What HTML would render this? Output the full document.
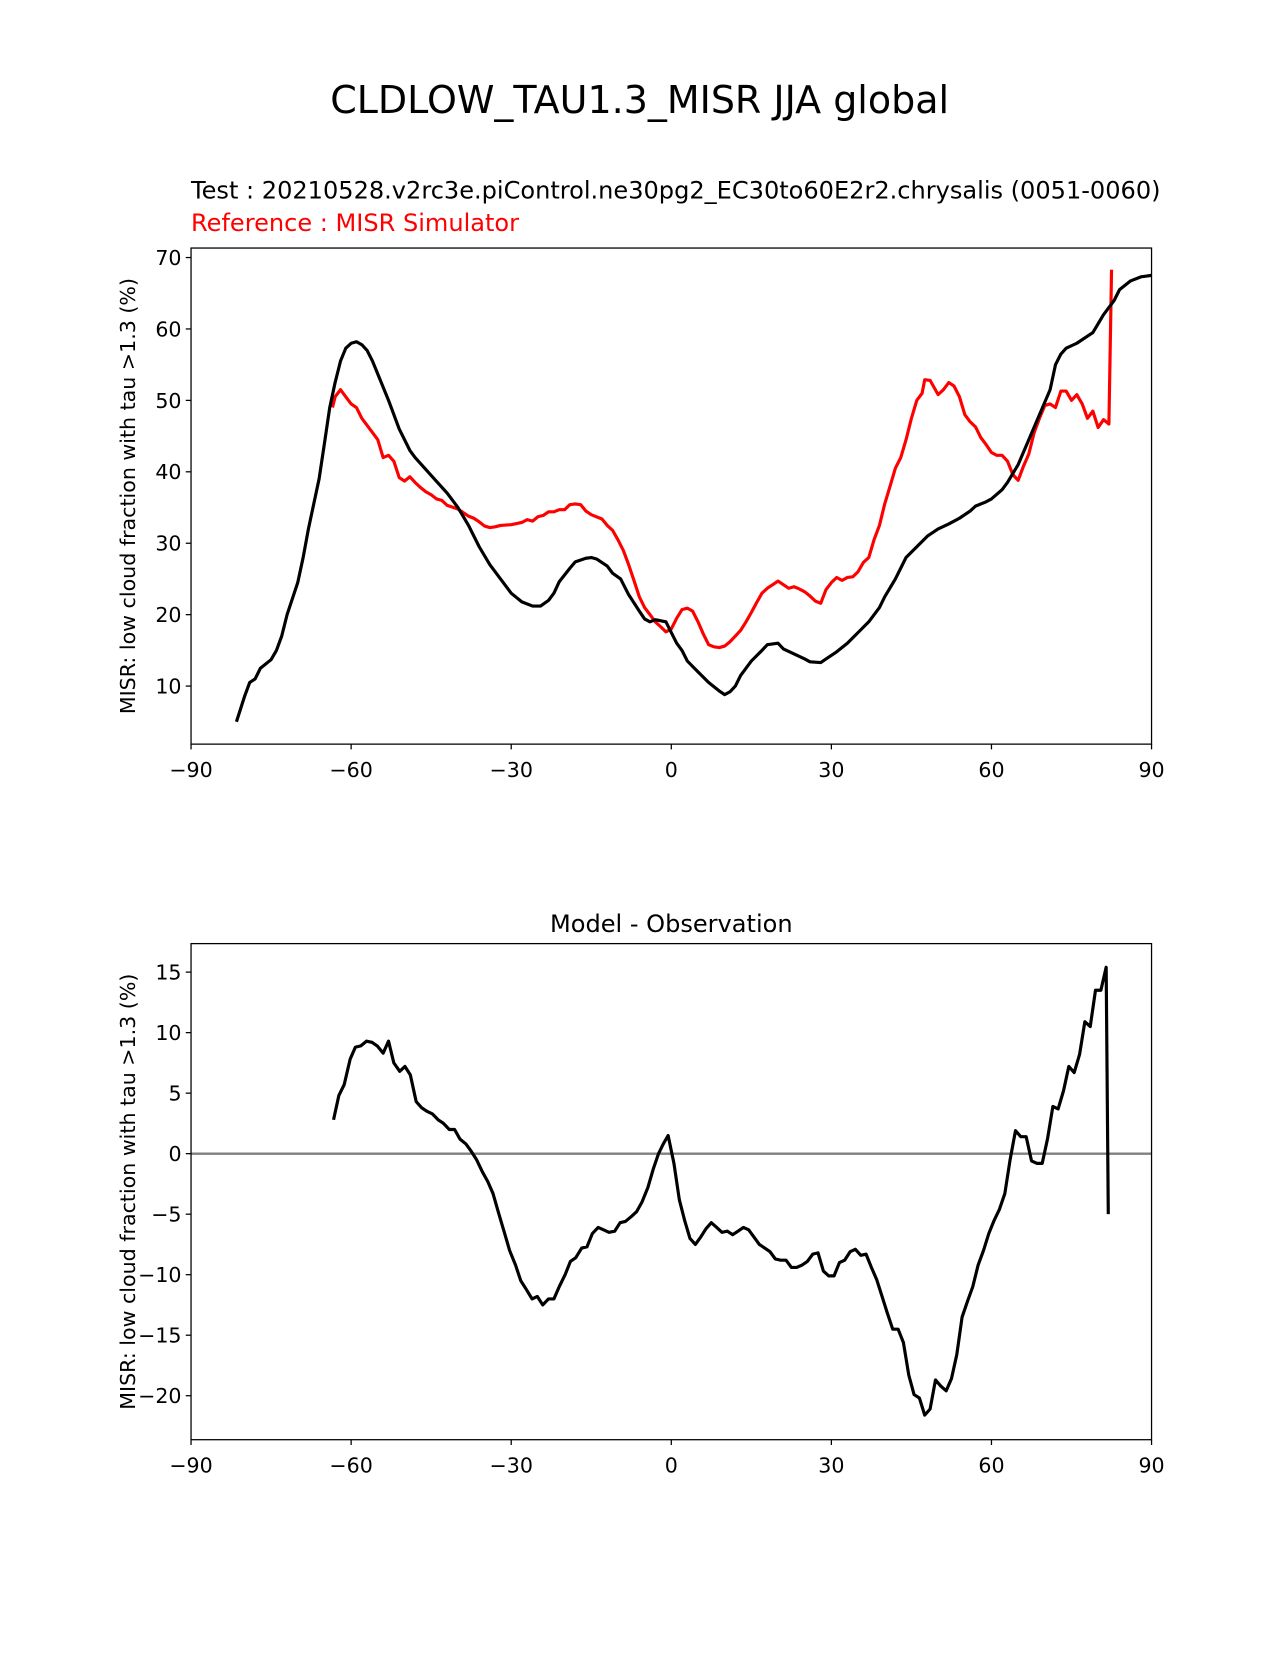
<!DOCTYPE html>
<html><head><meta charset="utf-8"><style>
body{margin:0;background:#fff;}
svg text{font-family:"DejaVu Sans","Liberation Sans",sans-serif;}
</style></head><body>
<svg id="chart" width="1275" height="1650" xmlns="http://www.w3.org/2000/svg">
<rect width="1275" height="1650" fill="#fff"/>
<g transform="scale(1.0555,1.0555)">
<text x="606" y="107" font-size="36" text-anchor="middle">CLDLOW_TAU1.3_MISR JJA global</text>
<text x="181" y="188" font-size="22.8">Test : 20210528.v2rc3e.piControl.ne30pg2_EC30to60E2r2.chrysalis (0051-0060)</text>
<text x="181" y="219" font-size="22.8" fill="#ff0000">Reference : MISR Simulator</text>
<text x="636" y="883" font-size="22.8" text-anchor="middle">Model - Observation</text>
<g id="top"></g>
<g id="bot"></g>
</g>
</svg>
<script>
const testLat=[-81.5,-80,-79,-78,-77,-75,-74,-73,-72,-70,-69,-68,-66,-65,-64,-63,-62,-61,-60,-59,-58,-57,-56,-55,-53,-51,-49,-48,-45,-42,-40,-38,-36,-34,-32,-30,-28,-26,-24.5,-23,-22,-21,-19,-18,-16,-15,-14,-12,-11,-9.5,-8,-6,-5,-4,-3,-1,0,1,2,3,5,7,9,10,11,12,13,15,17,18,20,21,23,25,26,28,29,31,33,35,37,39,40,42,44,46,48,50,52,54,56,57,59,60,62,63,65,67,69,71,72,73,74,76,79,81,83,84,86,88,90];
const testVal=[5,8.5,10.5,11,12.5,13.7,15,17,20,24.5,28,32,39,44,49,52.5,55.5,57.3,58,58.2,57.8,57,55.5,53.7,50,46,43,42,39.5,37,35,32.5,29.5,27,25,23,21.8,21.2,21.2,22,23,24.6,26.5,27.4,27.9,28,27.8,26.8,25.8,25,22.8,20.5,19.4,19,19.3,19,17.5,16,15,13.5,12,10.5,9.3,8.8,9.2,10,11.5,13.5,15,15.8,16,15.2,14.5,13.8,13.4,13.3,13.8,14.8,16,17.5,19,21,22.5,25,28,29.5,31,32,32.7,33.5,34.5,35.2,35.8,36.2,37.5,38.5,41,44.5,48,51.5,55,56.5,57.3,58,59.5,62,64,65.5,66.7,67.3,67.5];
const refLat=[-63.5,-63,-62,-61,-60,-59,-58,-56,-55,-54,-53,-52,-51,-50,-49,-48,-47,-46,-45,-44,-43,-42,-40,-39,-38,-37,-36,-35,-34,-33,-32,-30,-28,-27,-26,-25,-24,-23,-22,-21,-20,-19,-18,-17,-16,-15,-13,-12,-11,-10,-9,-8,-7,-6,-5,-4,-3,-2,-1,0,1,2,3,4,5,6,7,8,9,10,11,12,13,14,15,16,17,18,19,20,21,22,23,24,25,26,27,28,29,30,31,32,33,34,35,36,37,38,39,40,41,42,43,44,45,46,47,47.5,48.5,50,51,52,53,54,55,56,57,58,59,60,61,62,63,64,65,66,67,68,69,70,71,72,73,74,75,76,77,78,79,80,81,82,82.5];
const refVal=[49,50.5,51.5,50.5,49.5,49,47.5,45.5,44.5,42,42.3,41.5,39.2,38.7,39.3,38.5,37.8,37.2,36.8,36.2,36,35.3,34.8,34.3,33.8,33.5,33,32.4,32.2,32.3,32.5,32.6,32.9,33.3,33.1,33.7,33.9,34.4,34.4,34.7,34.7,35.4,35.5,35.4,34.5,34,33.4,32.5,31.8,30.5,29,27,24.8,22.5,21,20,19,18.3,17.6,18,19.5,20.7,20.9,20.5,19,17.3,15.8,15.5,15.4,15.6,16.2,17,17.8,19,20.3,21.7,23,23.7,24.2,24.7,24.2,23.7,23.9,23.6,23.2,22.6,21.9,21.6,23.5,24.5,25.2,24.8,25.2,25.3,26,27.3,28,30.5,32.5,35.5,38,40.5,42,44.5,47.5,50,51,52.9,52.8,50.8,51.5,52.5,52,50.5,48,47,46.3,44.8,43.8,42.7,42.3,42.3,41.5,39.6,38.8,40.8,42.5,45.5,47.5,49.3,49.5,49,51.3,51.3,50,50.8,49.5,47.5,48.5,46.2,47.3,46.7,68.3];
const diffVal=[2.8,4.8,5.7,7.8,8.8,8.9,9.3,9.2,8.9,8.3,9.3,7.5,6.8,7.2,6.5,4.3,3.8,3.5,3.3,2.8,2.5,2,2,1.2,0.8,0.2,-0.5,-1.5,-2.3,-3.3,-5,-6.5,-8,-9.2,-10.5,-11.2,-12,-11.8,-12.5,-12,-12,-11,-10,-8.9,-8.6,-7.8,-7.7,-6.6,-6.1,-6.3,-6.5,-6.4,-5.7,-5.6,-5.2,-4.8,-4,-2.8,-1.3,0,0.8,1.5,-0.8,-3.8,-5.5,-7,-7.5,-6.9,-6.2,-5.7,-6.1,-6.5,-6.4,-6.7,-6.4,-6.1,-6.3,-6.9,-7.5,-7.8,-8.1,-8.7,-8.8,-8.8,-9.4,-9.4,-9.2,-8.9,-8.3,-8.2,-9.7,-10.1,-10.1,-9,-8.8,-8.1,-7.9,-8.4,-8.3,-9.4,-10.4,-11.8,-13.2,-14.5,-14.5,-15.6,-18.3,-19.9,-20.2,-21.6,-21.1,-18.7,-19.2,-19.6,-18.6,-16.6,-13.5,-12.2,-11,-9.2,-8,-6.6,-5.5,-4.6,-3.3,-0.5,1.9,1.4,1.4,-0.6,-0.8,-0.8,1.2,3.9,3.7,5.2,7.2,6.7,8.2,10.9,10.5,13.5,13.5,15.4,-5];
const diffLat=[-63.3,-62.3,-61.3,-60.2,-59.2,-58.2,-57.1,-56.1,-55.1,-54,-53,-52,-50.9,-49.9,-48.9,-47.8,-46.8,-45.8,-44.8,-43.7,-42.7,-41.6,-40.6,-39.6,-38.5,-37.5,-36.5,-35.4,-34.4,-33.4,-32.3,-31.3,-30.3,-29.2,-28.2,-27.2,-26.1,-25.1,-24.1,-23,-22,-21,-19.9,-18.9,-17.9,-16.8,-15.8,-14.8,-13.7,-12.7,-11.7,-10.6,-9.6,-8.6,-7.5,-6.5,-5.5,-4.4,-3.4,-2.4,-1.5,-0.6,0.5,1.5,2.5,3.5,4.5,5.5,6.5,7.5,8.5,9.5,10.5,11.5,12.5,13.5,14.5,15.5,16.5,17.5,18.5,19.5,20.5,21.5,22.5,23.5,24.5,25.5,26.5,27.5,28.5,29.5,30.5,31.5,32.5,33.5,34.5,35.5,36.5,37.5,38.5,39.5,40.5,41.5,42.5,43.5,44.5,45.5,46.5,47.5,48.5,49.5,50.5,51.5,52.5,53.5,54.5,55.5,56.5,57.5,58.5,59.5,60.5,61.5,62.5,63.5,64.5,65.5,66.5,67.5,68.5,69.5,70.5,71.5,72.5,73.5,74.5,75.5,76.5,77.5,78.5,79.5,80.5,81.5,81.9];
const xTicks=[-90,-60,-30,0,30,60,90];
const topYTicks=[10,20,30,40,50,60,70];
const botYTicks=[-20,-15,-10,-5,0,5,10,15];

const NS='http://www.w3.org/2000/svg';
function mk(p,t,a){const e=document.createElementNS(NS,t);for(const k in a)e.setAttribute(k,a[k]);p.appendChild(e);return e;}
const L=181,R=1091;
const xs=v=>L+(v+90)*(R-L)/180;
function lab(v){return v<0?'\u2212'+(-v):''+v;}
function panel(g,top,bot,ys,yTicks,name){
  yTicks.forEach(t=>{const y=ys(t);
    const tk=mk(g,'line',{x1:L-5,x2:L,y1:y,y2:y,stroke:'#000','stroke-width':1.2});
    
    
    const tx=mk(g,'text',{x:L-9,y:y+7,'font-size':19.5,'text-anchor':'end'});tx.textContent=lab(t);
    
    });
  xTicks.forEach(t=>{const x=xs(t);
    const tk=mk(g,'line',{x1:x,x2:x,y1:bot,y2:bot+5,stroke:'#000','stroke-width':1.2});
    
    
    const tx=mk(g,'text',{x:x,y:bot+31,'font-size':19.5,'text-anchor':'middle'});tx.textContent=lab(t);
    
    });
  const yl=mk(g,'text',{transform:`translate(128,${(top+bot)/2}) rotate(-90)`,'font-size':19.5,'text-anchor':'middle'});
  yl.textContent='MISR: low cloud fraction with tau >1.3 (%)';
  
  
}
function line(g,lat,val,ys,col,w,name){
  const d=lat.map((v,i)=>(i?'L':'M')+xs(v).toFixed(1)+','+ys(val[i]).toFixed(1)).join('');
  const p=mk(g,'path',{d:d,fill:'none',stroke:col,'stroke-width':w,'stroke-linejoin':'round'});
  
  
}
function frame(g,top,bot,name){
  const r=mk(g,'rect',{x:L,y:top,width:R-L,height:bot-top,fill:'none',stroke:'#000','stroke-width':1.2});
  
  
}
const gT=document.getElementById('top');
const ysT=v=>650-(v-10)*406/60;
panel(gT,235,705,ysT,topYTicks,'top');
line(gT,refLat,refVal,ysT,'#ff0000',3,'reference-line');
line(gT,testLat,testVal,ysT,'#000',3,'test-line');
frame(gT,235,705,'top');
const gB=document.getElementById('bot');
const ysB=v=>1093-v*(1093-921)/15;
panel(gB,894,1364,ysB,botYTicks,'bottom');
const z=mk(gB,'line',{x1:L,x2:R,y1:ysB(0),y2:ysB(0),stroke:'#808080','stroke-width':2.2});


line(gB,diffLat,diffVal,ysB,'#000',3,'difference-line');
frame(gB,894,1364,'bottom');
</script>
</body></html>
